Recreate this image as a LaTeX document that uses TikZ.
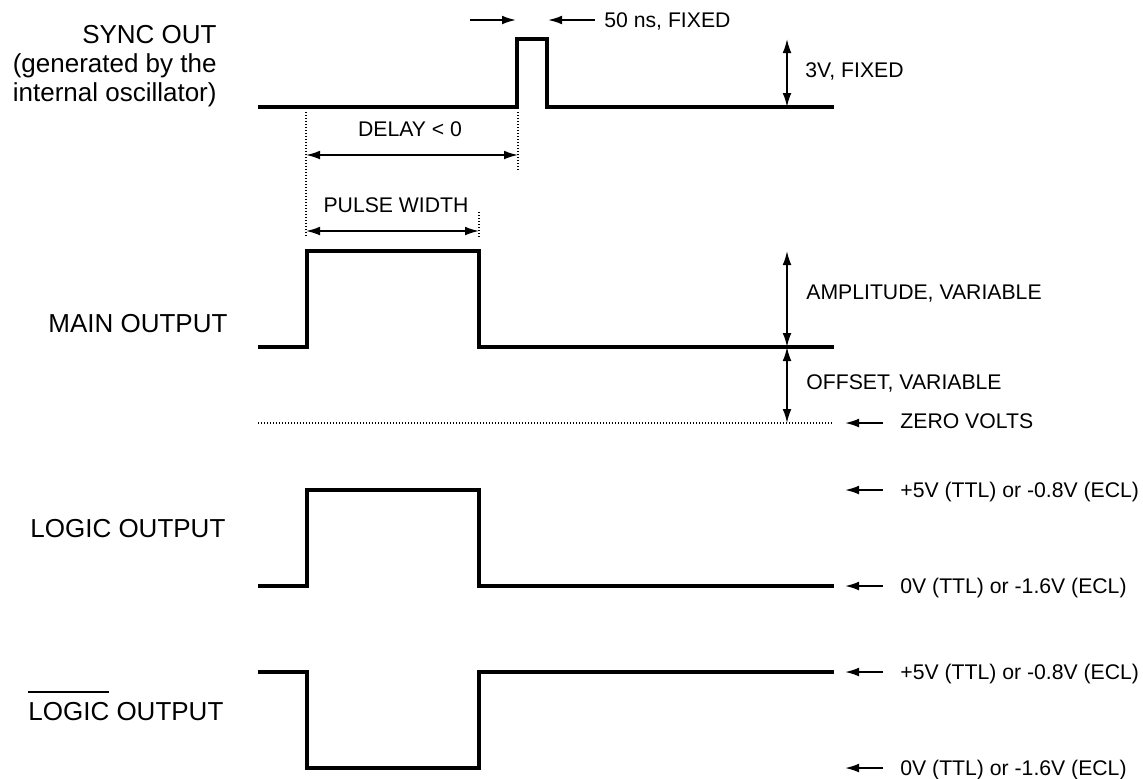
\documentclass[tikz,border=0pt]{standalone}
\usepackage{fontspec}
\setmainfont{Liberation Sans}
\usetikzlibrary{arrows.meta}
\newcommand\notbar[1]{\setbox0=\hbox{#1}\rlap{\rule[13.5pt]{\wd0}{1pt}}\box0\relax}
\begin{document}
\begin{tikzpicture}[x=0.5pt,y=-0.5pt]
        \tikzset{wave/.style={line width=1.6pt},
          dimline/.style={line width=0.85pt,{Latex[length=7pt,width=4.4pt]}-{Latex[length=7pt,width=4.4pt]}},
          pointer/.style={line width=0.9pt,-{Latex[length=7pt,width=4.4pt]}},
          guide/.style={line width=0.6pt,dash pattern=on 0.5pt off 1pt},
          smalltext/.style={inner sep=0pt,font=\fontsize{10.6}{12.5}\selectfont},
          bigtext/.style={inner sep=0pt,font=\fontsize{13}{14.5}\selectfont}}
        \useasboundingbox (0,0) rectangle (1143,778);
        % sync out
        \node [bigtext,anchor=north east,align=right] (synclbl) at (217,25) {SYNC OUT\\(generated by the\\internal oscillator)};
        \draw [wave] (258,107) -- (517,107) -- (517,39) -- (547,39) -- (547,107) -- (834,107);
        \coordinate (w1a) at (470,20);
        \coordinate (w1b) at (516,20);
        \coordinate (w2a) at (595,20);
        \coordinate (w2b) at (548,20);
        \draw [pointer] (w1a) -- (w1b);
        \draw [pointer] (w2a) -- (w2b);
        \node [smalltext,anchor=base west] (widthlbl) at (604,27) {50 ns, FIXED};
        \coordinate (synctop) at (787,39);
        \coordinate (syncbot) at (787,107);
        \draw [dimline] (synctop) -- (syncbot);
        \node [smalltext,anchor=base west] (synclvl) at (805,77) {3V, FIXED};
        % delay and pulse width
        \coordinate (d0) at (306,112);
        \coordinate (d1) at (306,238);
        \coordinate (d2) at (518,112);
        \coordinate (d3) at (518,172);
        \coordinate (d4) at (479,212);
        \coordinate (d5) at (479,238);
        \draw [guide] (d0) -- (d1);
        \draw [guide] (d2) -- (d3);
        \draw [guide] (d4) -- (d5);
        \coordinate (dl) at (306,155);
        \coordinate (dr) at (518,155);
        \draw [dimline] (dl) -- (dr);
        \node [smalltext,anchor=base] (delaylbl) at (410,136) {DELAY < 0};
        \coordinate (pl) at (306,231);
        \coordinate (pr) at (479,231);
        \draw [dimline] (pl) -- (pr);
        \node [smalltext,anchor=base] (pwlbl) at (396,212) {PULSE WIDTH};
        % main output
        \node [bigtext,anchor=base west] (mainlbl) at (48,332) {MAIN OUTPUT};
        \draw [wave] (258,347) -- (307,347) -- (307,251) -- (479,251) -- (479,347) -- (834,347);
        \coordinate (amptop) at (787,251);
        \coordinate (ampbot) at (787,347);
        \coordinate (zero) at (787,423);
        \draw [dimline] (amptop) -- (ampbot);
        \draw [dimline] (ampbot) -- (zero);
        \node [smalltext,anchor=base west] (amplbl) at (806,299) {AMPLITUDE, VARIABLE};
        \node [smalltext,anchor=base west] (offlbl) at (806,389) {OFFSET, VARIABLE};
        \draw [guide] (258,423) -- (834,423);
        \node [smalltext,anchor=base west] (zerolbl) at (900,428) {ZERO VOLTS};
        \coordinate (z0) at (883,423);
        \coordinate (z1) at (845,423);
        \draw [pointer] (z0) -- (z1);
        % logic output
        \node [bigtext,anchor=base west] (logiclbl) at (30,537) {LOGIC OUTPUT};
        \draw [wave] (258,586) -- (307,586) -- (307,490) -- (479,490) -- (479,586) -- (834,586);
        \node [smalltext,anchor=base west] (hi1) at (900,497) {+5V (TTL) or -0.8V (ECL)};
        \node [smalltext,anchor=base west] (lo1) at (900,593) {0V (TTL) or -1.6V (ECL)};
        \draw [pointer] (883,490) -- (845,490);
        \draw [pointer] (883,586) -- (845,586);
        % inverted logic output
        \node [bigtext,anchor=base west] (nlogiclbl) at (28,720) {\notbar{LOGIC} OUTPUT};
        \draw [wave] (258,672) -- (307,672) -- (307,768) -- (479,768) -- (479,672) -- (834,672);
        \node [smalltext,anchor=base west] (hi2) at (900,679) {+5V (TTL) or -0.8V (ECL)};
        \node [smalltext,anchor=base west] (lo2) at (900,775) {0V (TTL) or -1.6V (ECL)};
        \draw [pointer] (883,672) -- (845,672);
        \draw [pointer] (883,768) -- (845,768);
\end{tikzpicture}
\end{document}
